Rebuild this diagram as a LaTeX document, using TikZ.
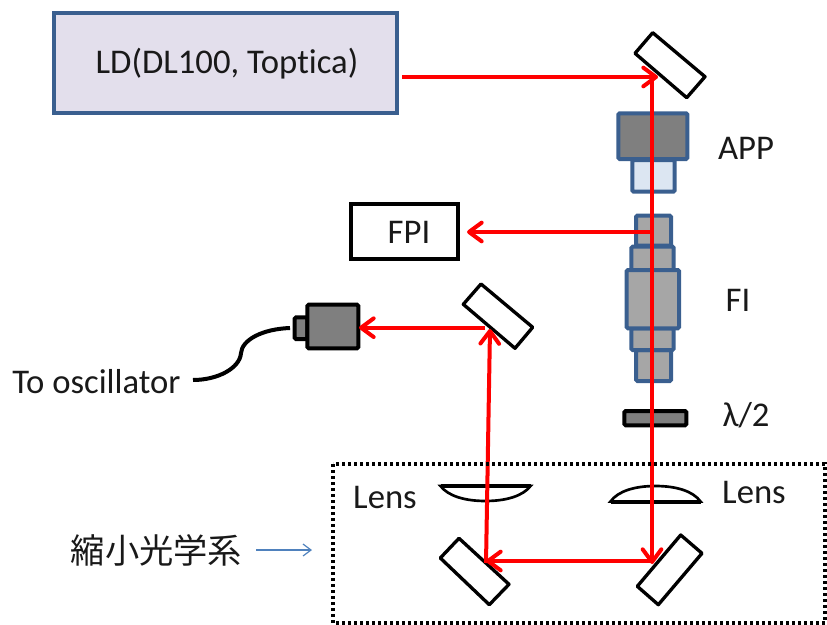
\documentclass[tikz,border=0pt]{standalone}
\usepackage{fontspec}
\setmainfont[Ligatures=NoCommon]{Carlito}
\newfontfamily\cjk{Noto Sans CJK JP}
\usetikzlibrary{arrows.meta}
\definecolor{edgeblue}{HTML}{3A5F8F}
\definecolor{ldfill}{HTML}{E3DFEC}
\definecolor{darkgrey}{HTML}{7F7F7F}
\definecolor{midgrey}{HTML}{A6A6A6}
\definecolor{lightblue}{HTML}{DCE6F2}
\definecolor{thinblue}{HTML}{4F81BD}
\definecolor{beam}{HTML}{FF0000}
\tikzset{
  mirror/.style={draw=black,line width=2.5pt,fill=white,line join=round},
  bluebox/.style={draw=edgeblue,line width=3pt,rounded corners=1pt},
  blackbox/.style={draw=black,line width=3pt,rounded corners=1pt},
  lens/.style={draw=black,line width=2pt,fill=white},
  ray/.style={draw=beam,line width=3pt},
  rayarrow/.style={ray,-{Straight Barb[length=9.5pt,width=14pt,line width=3pt,round]}},
  lbl/.style={font=\fontsize{26}{30}\selectfont,text=black!90,inner sep=0pt}
}
\begin{document}
\begin{tikzpicture}[x=0.75pt,y=-0.75pt]
\useasboundingbox (0,0) rectangle (827,624);
% LD
\draw[draw=edgeblue,line width=3pt,fill=ldfill] (54,13) rectangle (397,113);
\node[lbl] (ld) at (227,64) {LD(DL100, Toptica)};
\coordinate (ldout) at (402,77);
% mirrors
\draw[mirror] (652.7,32.7)--(705,76.7)--(686.7,97.7)--(635,53.3)--cycle;
\draw[mirror] (481,284)--(532.7,327.3)--(515,348.3)--(463.3,304.3)--cycle;
\draw[mirror] (459,538.3)--(509,584.3)--(489.3,604.7)--(440.3,558)--cycle;
\draw[mirror] (680.7,535)--(702,553.3)--(658.3,604.7)--(637.3,586.3)--cycle;
\coordinate (mtop) at (658,77);
\coordinate (mtopv) at (652,77);
\coordinate (mbr) at (652,564);
\coordinate (mbrh) at (652,561);
\coordinate (mbl) at (486,561);
\coordinate (mblv) at (486,563);
\coordinate (mmid) at (490,329);
\coordinate (mmidout) at (485,327.7);
\coordinate (split) at (652,232);
% APP
\draw[bluebox,fill=lightblue] (632.3,160) rectangle (674.7,191.7);
\draw[bluebox,fill=darkgrey] (618.3,113.3) rectangle (687.3,159);
\node[lbl] (app) at (746,148) {APP};
% FI
\draw[bluebox,fill=midgrey] (636,215.7) rectangle (671,245.7);
\draw[bluebox,fill=midgrey] (636,350) rectangle (671,381);
\draw[bluebox,fill=midgrey] (631.3,246.7) rectangle (673.7,270);
\draw[bluebox,fill=midgrey] (631.3,328.3) rectangle (673.7,350);
\draw[bluebox,fill=midgrey] (626.7,270) rectangle (679,328.3);
\node[lbl] (fi) at (738,300) {FI};
% waveplate
\draw[blackbox,fill=darkgrey] (624.3,411) rectangle (686.3,425.3);
\node[lbl] (hw) at (746,415) {λ/2};
% lenses
\draw[lens] (440.5,486) .. controls (448,496) and (465,501) .. (485.5,501) .. controls (506,501) and (523,496) .. (530.5,486) -- cycle;
\draw[draw=black,line width=3pt] (440.5,486) -- (530.5,486);
\draw[lens] (610.5,501.5) .. controls (618,491) and (635,486) .. (655.5,486) .. controls (676,486) and (693,491) .. (700.5,501.5) -- cycle;
\draw[draw=black,line width=3pt] (610.5,501.5) -- (700.5,501.5);
\node[lbl] (lensl) at (385,497) {Lens};
\node[lbl] (lensr) at (754,492) {Lens};
% FPI
\node[draw=black,line width=3pt,minimum width=80pt,minimum height=41pt,inner sep=0pt,fill=white] (fpi) at (404.5,231.5) {};
\node[lbl] (fpit) at (409,232) {FPI};
\coordinate (fpiin) at (467,232);
% detector
\draw[blackbox,fill=darkgrey] (294.7,317.3) rectangle (307.3,339);
\draw[blackbox,fill=darkgrey] (307.3,304.7) rectangle (358.3,348.3);
\coordinate (detin) at (359,327.7);
\coordinate (cabA) at (290,328);
\coordinate (cabB) at (193,380);
\draw[line width=3pt,draw=black] (cabA) .. controls (262,329) and (242,340) .. (241,353) .. controls (240,368) and (218,380) .. (cabB);
\node[lbl] (osc) at (96.5,382) {To oscillator};
% rays
\draw[rayarrow] (ldout) -- (mtop);
\draw[ray] (mtopv) -- (split);
\draw[rayarrow] (split) -- (mbr);
\draw[rayarrow] (split) -- (fpiin);
\draw[rayarrow] (mbrh) -- (mbl);
\draw[rayarrow] (mblv) -- (mmid);
\draw[rayarrow] (mmidout) -- (detin);
% dotted region
\draw[draw=black,line width=2.4pt,dash pattern=on 2.2pt off 2.3pt] (333,464) rectangle (825,623);
\node[lbl,font=\cjk\fontsize{25.7}{30}\selectfont] (sys) at (156.5,550) {縮小光学系};
\coordinate (ptr) at (312,550);
\draw[draw=thinblue,line width=0.9pt,-{Straight Barb[length=6pt,width=9pt]}] (256,550) -- (ptr);
\end{tikzpicture}
\end{document}
